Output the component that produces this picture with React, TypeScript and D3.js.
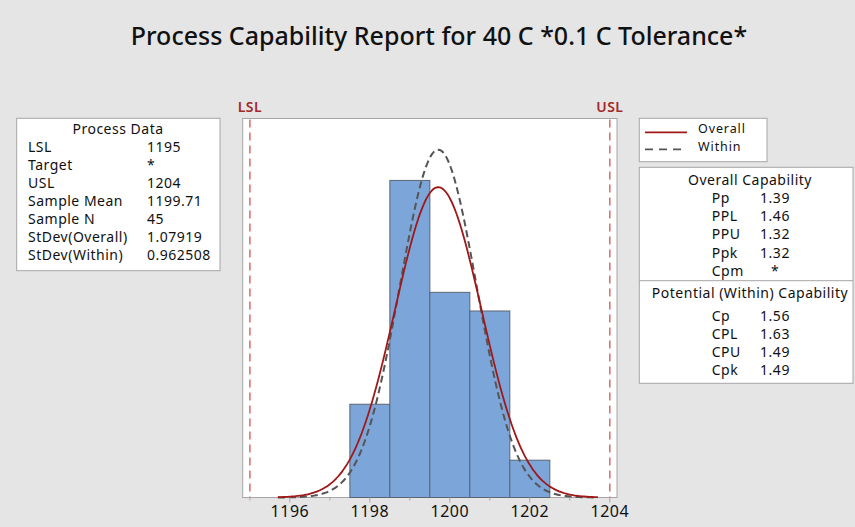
import { useRef, useEffect } from 'react';
import * as d3 from 'd3';

// histogram (bin centres, width 1)
const binCenters = [1198, 1199, 1200, 1201, 1202];
const binCounts = [5, 17, 11, 10, 2];
const binWidth = 1;

const LSL = 1195;
const USL = 1204;
const sampleN = 45;
const sampleMean = 1199.71;
const sdOverall = 1.07919;
const sdWithin = 0.962508;

const xTicks = [1196, 1198, 1200, 1202, 1204];
const xMinorTicks = [1195, 1197, 1199, 1201, 1203];

const processLabels = ['LSL', 'Target', 'USL', 'Sample Mean', 'Sample N', 'StDev(Overall)', 'StDev(Within)'];
const processValues = ['1195', '*', '1204', '1199.71', '45', '1.07919', '0.962508'];

const overallLabels = ['Pp', 'PPL', 'PPU', 'Ppk', 'Cpm'];
const overallValues = ['1.39', '1.46', '1.32', '1.32', '*'];
const withinLabels = ['Cp', 'CPL', 'CPU', 'Cpk'];
const withinValues = ['1.56', '1.63', '1.49', '1.49'];

const W = 855;
const H = 527;
const FONT = '"Noto Sans", "Open Sans", sans-serif';

export default function App() {
  const svgRef = useRef<SVGSVGElement>(null);

  useEffect(() => {
    const svg = d3.select(svgRef.current);
    svg.selectAll('*').remove();
    svg.attr('width', W).attr('height', H).style('font-family', FONT);

    svg.append('rect').attr('width', W).attr('height', H).attr('fill', '#e5e5e5');

    svg
      .append('text')
      .attr('x', 439)
      .attr('y', 45)
      .attr('text-anchor', 'middle')
      .attr('font-size', 25)
      .attr('font-weight', 500)
      .attr('fill', '#111')
      .text('Process Capability Report for 40 C *0.1 C Tolerance*');

    // plot area
    const left = 242.7, right = 617, top = 118.5, bottom = 497.5;
    const x = d3.scaleLinear().domain([1194.82, 1204.18]).range([left, right]);
    const y = d3.scaleLinear().domain([0, 20.32]).range([bottom, top]);

    svg
      .append('rect')
      .attr('x', left)
      .attr('y', top)
      .attr('width', right - left)
      .attr('height', bottom - top)
      .attr('fill', '#fff')
      .attr('stroke', '#a6a6a6');

    // bars
    svg
      .append('g')
      .selectAll('rect')
      .data(binCenters)
      .join('rect')
      .attr('x', d => x(d - binWidth / 2))
      .attr('width', x(binWidth) - x(0))
      .attr('y', (d, i) => y(binCounts[i]))
      .attr('height', (d, i) => y(0) - y(binCounts[i]))
      .attr('fill', '#7ca6d9')
      .attr('stroke', '#5b6470')
      .attr('stroke-width', 1);

    // fitted normal curves, scaled to counts
    const normal = (v: number, sd: number) =>
      (sampleN * binWidth * Math.exp(-0.5 * ((v - sampleMean) / sd) ** 2)) / (sd * Math.sqrt(2 * Math.PI));
    const xs = d3.range(1195.7, 1203.71, 0.05);
    const line = d3.line<number>().x(d => x(d)).curve(d3.curveMonotoneX);

    svg
      .append('path')
      .attr('d', line.y(d => y(normal(d, sdWithin)))(xs))
      .attr('fill', 'none')
      .attr('stroke', '#555')
      .attr('stroke-width', 2)
      .attr('stroke-dasharray', '7,4');

    svg
      .append('path')
      .attr('d', line.y(d => y(normal(d, sdOverall)))(xs))
      .attr('fill', 'none')
      .attr('stroke', '#a01818')
      .attr('stroke-width', 1.8);

    // spec limits
    [
      ['LSL', LSL],
      ['USL', USL],
    ].forEach(([name, v]) => {
      svg
        .append('line')
        .attr('x1', x(v as number))
        .attr('x2', x(v as number))
        .attr('y1', top + 1)
        .attr('y2', bottom)
        .attr('stroke', '#e07272')
        .attr('stroke-width', 1.6)
        .attr('stroke-dasharray', '8,5');
      svg
        .append('text')
        .attr('x', x(v as number))
        .attr('y', 111.5)
        .attr('text-anchor', 'middle')
        .attr('font-size', 14)
        .attr('font-weight', 600)
        .attr('letter-spacing', 0.4)
        .attr('fill', '#a3282a')
        .text(name as string);
    });

    // x axis
    const axis = svg.append('g');
    axis
      .selectAll('line.major')
      .data(xTicks)
      .join('line')
      .attr('class', 'major')
      .attr('x1', d => x(d))
      .attr('x2', d => x(d))
      .attr('y1', bottom)
      .attr('y2', bottom + 5)
      .attr('stroke', '#a6a6a6');
    axis
      .selectAll('line.minor')
      .data(xMinorTicks)
      .join('line')
      .attr('class', 'minor')
      .attr('x1', d => x(d))
      .attr('x2', d => x(d))
      .attr('y1', bottom)
      .attr('y2', bottom + 3)
      .attr('stroke', '#a6a6a6');
    axis
      .selectAll('text')
      .data(xTicks)
      .join('text')
      .attr('x', d => x(d))
      .attr('y', 517)
      .attr('text-anchor', 'middle')
      .attr('font-size', 16)
      .attr('letter-spacing', 0.5)
      .attr('fill', '#111')
      .text(d => d);

    // Process Data box
    const pd = svg.append('g').attr('font-size', 14).attr('letter-spacing', 0.5).attr('fill', '#111');
    pd.append('rect')
      .attr('x', 16.7)
      .attr('y', 118.3)
      .attr('width', 220 - 16.7)
      .attr('height', 270.7 - 118.3)
      .attr('fill', '#fff')
      .attr('stroke', '#a6a6a6');
    pd.append('text').attr('x', 118).attr('y', 134).attr('text-anchor', 'middle').text('Process Data');
    pd.selectAll('text.lbl')
      .data(processLabels)
      .join('text')
      .attr('class', 'lbl')
      .attr('x', 28)
      .attr('y', (d, i) => 152 + i * 18)
      .text(d => d);
    pd.selectAll('text.val')
      .data(processValues)
      .join('text')
      .attr('class', 'val')
      .attr('x', 147)
      .attr('y', (d, i) => 152 + i * 18)
      .text(d => d);

    // legend
    const lg = svg.append('g').attr('font-size', 12.5).attr('letter-spacing', 0.9).attr('fill', '#111');
    lg.append('rect')
      .attr('x', 639.3)
      .attr('y', 118.3)
      .attr('width', 767 - 639.3)
      .attr('height', 161.7 - 118.3)
      .attr('fill', '#fff')
      .attr('stroke', '#a6a6a6');
    lg.append('line').attr('x1', 645).attr('x2', 687).attr('y1', 132.3).attr('y2', 132.3)
      .attr('stroke', '#a01818').attr('stroke-width', 1.8);
    lg.append('line').attr('x1', 645).attr('x2', 687).attr('y1', 149.3).attr('y2', 149.3)
      .attr('stroke', '#555').attr('stroke-width', 1.8).attr('stroke-dasharray', '8,6');
    lg.append('text').attr('x', 698).attr('y', 133).text('Overall');
    lg.append('text').attr('x', 698).attr('y', 150.6).text('Within');

    // capability box
    const cb = svg.append('g').attr('font-size', 14).attr('letter-spacing', 0.5).attr('fill', '#111');
    cb.append('rect')
      .attr('x', 639.3)
      .attr('y', 167.3)
      .attr('width', 853 - 639.3)
      .attr('height', 383.3 - 167.3)
      .attr('fill', '#fff')
      .attr('stroke', '#a6a6a6');
    cb.append('line').attr('x1', 639.3).attr('x2', 853).attr('y1', 280.7).attr('y2', 280.7).attr('stroke', '#a6a6a6');
    cb.append('text').attr('x', 750).attr('y', 184.5).attr('text-anchor', 'middle').text('Overall Capability');
    cb.append('text').attr('x', 750).attr('y', 297.7).attr('text-anchor', 'middle').text('Potential (Within) Capability');

    const rows = (labels: string[], values: string[], y0: number, step: number, cls: string) => {
      cb.selectAll(`text.${cls}l`)
        .data(labels)
        .join('text')
        .attr('class', `${cls}l`)
        .attr('x', 711.7)
        .attr('y', (d, i) => y0 + i * step)
        .text(d => d);
      cb.selectAll(`text.${cls}v`)
        .data(values)
        .join('text')
        .attr('class', `${cls}v`)
        .attr('x', 775)
        .attr('y', (d, i) => y0 + i * step)
        .attr('text-anchor', 'middle')
        .text(d => d);
    };
    rows(overallLabels, overallValues, 202.5, 18.4, 'o');
    rows(withinLabels, withinValues, 321, 17.9, 'w');
  }, []);

  return (
    <div>
      <svg ref={svgRef} style={{ position: 'absolute', left: 0, top: 0 }} />
    </div>
  );
}
